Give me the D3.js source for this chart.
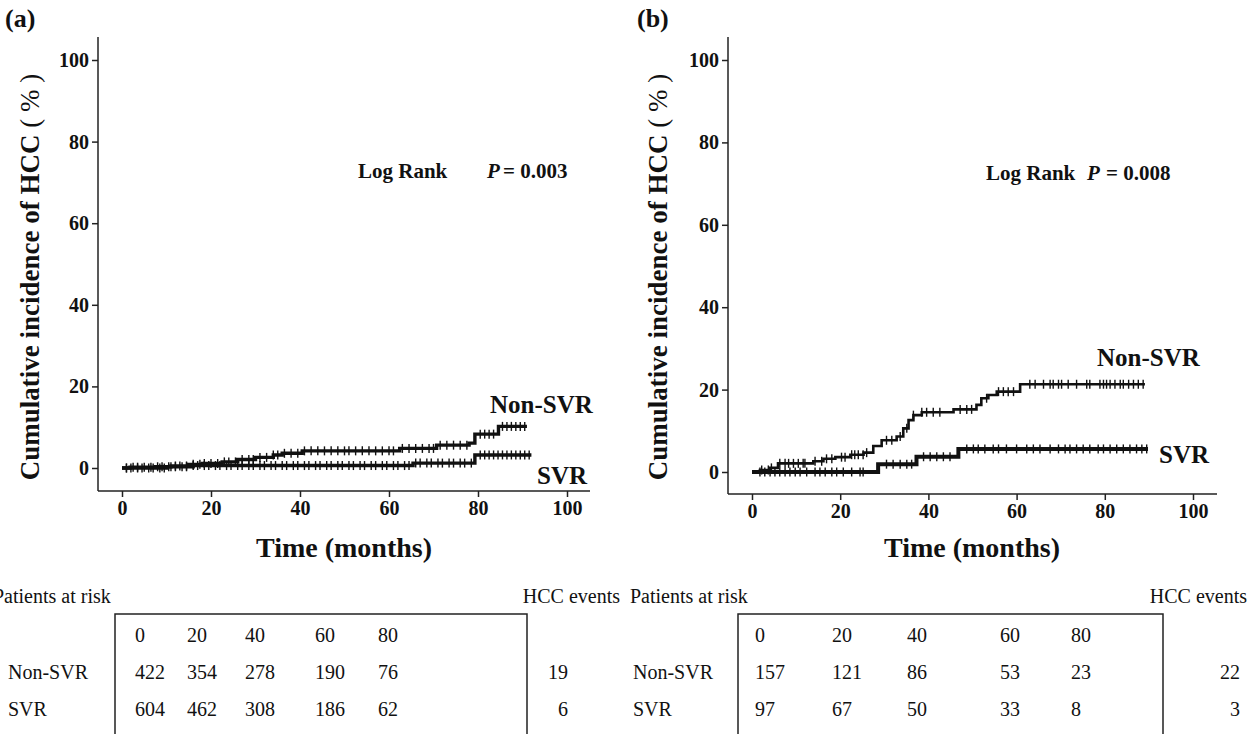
<!DOCTYPE html>
<html><head><meta charset="utf-8">
<script src="https://cdn.jsdelivr.net/npm/d3@7"></script>
<style>
body{margin:0;background:#fff}
svg{display:block}
text{font-family:"Liberation Serif","Times New Roman",serif;fill:#111}
</style>
</head><body>
<svg id="c" width="1248" height="734"></svg>
<script>
// ---------- data ----------
const xTicks = [0, 20, 40, 60, 80, 100];
const yTicks = [0, 20, 40, 60, 80, 100];
const riskTimes = ["0", "20", "40", "60", "80"];
const groups = ["Non-SVR", "SVR"];

// panel (a): step points [months, cumulative %]
const aNonSvrSteps = [[0,0],[1.8,0.2],[7.5,0.3],[11,0.5],[15,0.9],[18,1.1],[22.5,1.5],[26,2.1],[30,2.6],[34,3.2],[36,3.6],[40.5,4.2],[62.4,4.8],[70.7,5.6],[78,6.1],[79.3,8.3],[84.6,10.2]];
const aNonSvrEnd = 91;
const aSvrSteps = [[0,0],[10,0.3],[16,0.6],[65.4,1.2],[79.3,3.2]];
const aSvrEnd = 92;
const aNonSvrCensor = [1,2.5,3.5,5,6.5,8,9,10.5,12,13,14.5,16,17.5,18.5,20,21.5,23,24,25.5,27,28.5,29.5,31,32.5,34,35,36.5,38,39.5,41,42.5,44,45.5,47,48.5,50,51,52.5,54,55.5,57,58.5,60,61,63,64.5,66,67.5,69,70,71.5,73,74.5,76,77.5,80.5,81.5,82.5,83.5,85.5,86.5,87.5,88.5,89.5,90.5];
const aSvrCensor = [1,2,3.5,4.5,6,7,8.5,9.5,11,12,13.5,14.5,16,17,18.5,19.5,21,22,23.5,24.5,26,27,28.5,29.5,31,32,33.5,34.5,36,37,38.5,39.5,41,42,43.5,44.5,46,47,48.5,49.5,51,52,53.5,54.5,56,57,58.5,59.5,61,62,63.5,64.5,66,67,68.5,69.5,71,72,73.5,74.5,76,77,78.5,80.5,81.5,82.5,83.5,84.5,85.5,86.5,87.5,88.5,89.5,90.5,91.5];
const aRiskNonSvr = [422, 354, 278, 190, 76];
const aRiskSvr = [604, 462, 308, 186, 62];
const aEvents = [19, 6];
const aPValue = "0.003";

// panel (b)
const bNonSvrSteps = [[0,0],[1.8,0.5],[4.1,1.0],[5.9,2.1],[13.9,2.6],[16.2,3.2],[18.9,3.6],[22.3,4.2],[25.3,4.7],[27.5,6.3],[29.4,7.7],[32.8,8.6],[34.3,10.6],[35.5,12.6],[36.6,13.8],[38.5,14.5],[45.7,15.2],[50.9,16.3],[52,17.9],[53.6,18.7],[55.5,19.5],[60.8,21.3]];
const bNonSvrEnd = 89.1;
const bSvrSteps = [[0,0],[28.6,1.9],[37.3,3.7],[46.8,5.6]];
const bSvrEnd = 89.8;
const bNonSvrCensor = [2.2,3.7,4.4,6.3,7.5,8.3,9.4,10.5,11.6,12.0,14.3,15.8,16.9,18.1,20.3,21.1,22.6,23.3,24.1,25.2,26.0,30.5,31.7,33.6,35.1,36.6,38.5,39.6,41.1,42.6,47.2,48.7,49.8,53.2,55.9,57.0,58.1,59.3,63.0,64.2,66.1,67.6,68.3,69.5,70.2,71.7,73.6,75.9,76.6,78.9,79.7,80.4,81.2,82.3,83.5,84.2,85.4,86.5,87.6,88.7];
const bSvrCensor = [1.8,2.9,4.1,5.2,6.3,7.5,8.6,9.8,10.9,12.4,14.3,15.4,16.6,18.1,19.2,20.7,22.6,24.5,25.2,30.5,32.0,33.6,35.1,36.2,38.9,40.4,41.9,43.4,44.9,48.7,50.2,51.3,52.8,54.7,55.9,57.7,60.0,62.3,63.8,65.3,67.6,69.5,71.0,72.1,73.6,75.1,76.6,78.5,79.7,81.2,82.7,84.2,85.7,87.2,88.4,89.5];
const bRiskNonSvr = [157, 121, 86, 53, 23];
const bRiskSvr = [97, 67, 50, 33, 8];
const bEvents = [22, 3];
const bPValue = "0.008";

// ---------- layout ----------
const svg = d3.select("#c");
const FS_TABLE = 20;

const panels = [
  { tag: "(a)", tagX: 5, axX: 98, axTop: 37, axBottom: 491, axRight: 590,
    x0: 122, x100: 567, y0: 468, y100: 60,
    titleX: 30, timeX: 344,
    lr: {x: 358, px: 487, vx: 503, y: 178}, p: aPValue,
    nonSvr: {steps: aNonSvrSteps, end: aNonSvrEnd, censor: aNonSvrCensor, w: 3.4},
    svr: {steps: aSvrSteps, end: aSvrEnd, censor: aSvrCensor, w: 3.4},
    lblNon: {x: 490, y: 413}, lblSvr: {x: 537, y: 484},
    table: {textX: -7, eventsRight: 620, boxL: 115, boxR: 527, cols: [135,187,245,315,378], rowX: 8, evX: 568,
            risk: [aRiskNonSvr, aRiskSvr], events: aEvents} },
  { tag: "(b)", tagX: 637, axX: 728, axTop: 37, axBottom: 494, axRight: 1217,
    x0: 752, x100: 1193, y0: 472, y100: 60,
    titleX: 658, timeX: 972,
    lr: {x: 986, px: 1087, vx: 1106, y: 180}, p: bPValue,
    nonSvr: {steps: bNonSvrSteps, end: bNonSvrEnd, censor: bNonSvrCensor, w: 2.6},
    svr: {steps: bSvrSteps, end: bSvrEnd, censor: bSvrCensor, w: 4},
    lblNon: {x: 1097, y: 366}, lblSvr: {x: 1159, y: 463},
    table: {textX: 630, eventsRight: 1247, boxL: 738, boxR: 1163, cols: [755,832,907,1000,1071], rowX: 633, evX: 1240,
            risk: [bRiskNonSvr, bRiskSvr], events: bEvents} }
];

function stepValue(steps, t) {
  let v = 0;
  for (const s of steps) { if (s[0] <= t) v = s[1]; }
  return v;
}

panels.forEach(p => {
  const x = d3.scaleLinear().domain([0, 100]).range([p.x0, p.x100]);
  const y = d3.scaleLinear().domain([0, 100]).range([p.y0, p.y100]);
  const g = svg.append("g");

  // panel tag
  g.append("text").attr("x", p.tagX).attr("y", 27).attr("font-size", 26).attr("font-weight", "bold").text(p.tag);

  // axes lines
  g.append("line").attr("x1", p.axX).attr("x2", p.axX).attr("y1", p.axTop).attr("y2", p.axBottom)
    .attr("stroke", "#222").attr("stroke-width", 1.5);
  g.append("line").attr("x1", p.axX).attr("x2", p.axRight).attr("y1", p.axBottom).attr("y2", p.axBottom)
    .attr("stroke", "#222").attr("stroke-width", 1.5);

  // y ticks
  const yAxis = d3.axisLeft(y).tickValues(yTicks).tickSize(6).tickPadding(3).tickFormat(d3.format("d"));
  const ya = g.append("g").attr("transform", `translate(${p.axX},0)`).call(yAxis);
  ya.select(".domain").remove();
  ya.selectAll("line").attr("stroke", "#222").attr("stroke-width", 1.5);
  ya.selectAll("text").attr("font-size", 20).attr("font-weight", "bold")
    .attr("font-family", "Liberation Serif, serif").attr("fill", "#111");

  // x ticks
  const xAxis = d3.axisBottom(x).tickValues(xTicks).tickSize(6).tickPadding(4).tickFormat(d3.format("d"));
  const xa = g.append("g").attr("transform", `translate(0,${p.axBottom})`).call(xAxis);
  xa.select(".domain").remove();
  xa.selectAll("line").attr("stroke", "#222").attr("stroke-width", 1.5);
  xa.selectAll("text").attr("font-size", 20).attr("font-weight", "bold")
    .attr("font-family", "Liberation Serif, serif").attr("fill", "#111");

  // y title
  const yt = g.append("text").attr("transform", `translate(${p.titleX},277) rotate(-90)`)
    .attr("text-anchor", "middle").attr("dominant-baseline", "central").attr("font-size", 27).attr("font-weight", "bold");
  yt.append("tspan").text("Cumulative incidence of HCC ");
  yt.append("tspan").attr("font-weight", "normal").text("( % )");

  // x title
  g.append("text").attr("x", p.timeX).attr("y", 557).attr("text-anchor", "middle")
    .attr("font-size", 28).attr("font-weight", "bold").text("Time (months)");

  // log rank
  g.append("text").attr("x", p.lr.x).attr("y", p.lr.y).attr("font-size", 21).attr("font-weight", "bold").text("Log Rank");
  g.append("text").attr("x", p.lr.px).attr("y", p.lr.y).attr("font-size", 21).attr("font-weight", "bold")
    .attr("font-style", "italic").text("P");
  g.append("text").attr("x", p.lr.vx).attr("y", p.lr.y).attr("font-size", 21).attr("font-weight", "bold").text("= " + p.p);

  // curves
  const line = d3.line().x(d => x(d[0])).y(d => y(d[1])).curve(d3.curveStepAfter);
  [p.nonSvr, p.svr].forEach(c => {
    const pts = c.steps.concat([[c.end, c.steps[c.steps.length - 1][1]]]);
    g.append("path").attr("d", line(pts)).attr("fill", "none").attr("stroke", "#111").attr("stroke-width", c.w);
    g.selectAll(null).data(c.censor).enter().append("line")
      .attr("x1", d => x(d)).attr("x2", d => x(d))
      .attr("y1", d => y(stepValue(c.steps, d)) - 4.5).attr("y2", d => y(stepValue(c.steps, d)) + 4.5)
      .attr("stroke", "#111").attr("stroke-width", 1.4);
  });

  g.append("text").attr("x", p.lblNon.x).attr("y", p.lblNon.y).attr("font-size", 25).attr("font-weight", "bold").text("Non-SVR");
  g.append("text").attr("x", p.lblSvr.x).attr("y", p.lblSvr.y).attr("font-size", 25).attr("font-weight", "bold").text("SVR");

  // risk table
  const t = p.table;
  const tg = g.append("g");
  tg.append("text").attr("x", t.textX).attr("y", 603).attr("font-size", FS_TABLE).text("Patients at risk");
  tg.append("text").attr("x", t.eventsRight).attr("y", 603).attr("text-anchor", "end").attr("font-size", FS_TABLE).text("HCC events");
  tg.append("path").attr("d", `M${t.boxL},734 V614 H${t.boxR} V734`).attr("fill", "none").attr("stroke", "#222").attr("stroke-width", 1.5);
  riskTimes.forEach((v, i) => {
    tg.append("text").attr("x", t.cols[i]).attr("y", 642).attr("font-size", FS_TABLE).text(v);
  });
  groups.forEach((name, r) => {
    const yy = 679 + r * 37;
    tg.append("text").attr("x", t.rowX).attr("y", yy).attr("font-size", FS_TABLE).text(name);
    t.risk[r].forEach((v, i) => {
      tg.append("text").attr("x", t.cols[i]).attr("y", yy).attr("font-size", FS_TABLE).text(v);
    });
    tg.append("text").attr("x", t.evX).attr("y", yy).attr("text-anchor", "end").attr("font-size", FS_TABLE).text(t.events[r]);
  });
});
</script>
</body></html>
